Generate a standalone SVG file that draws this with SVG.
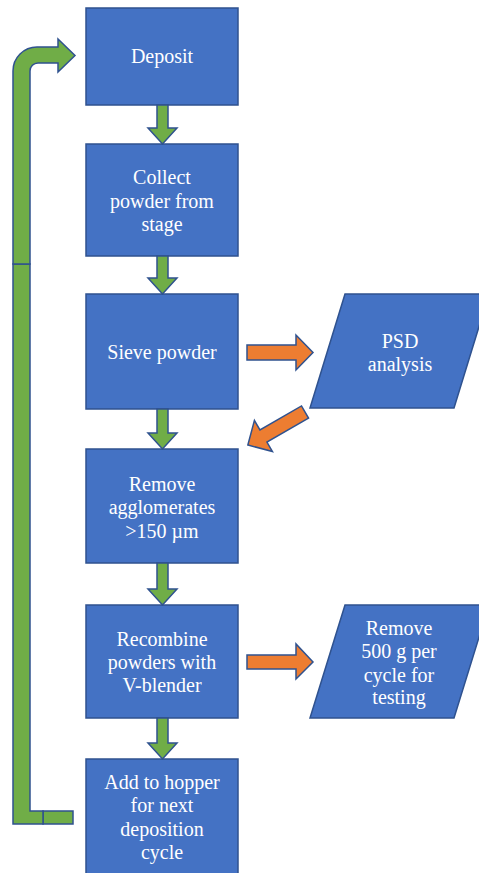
<svg xmlns="http://www.w3.org/2000/svg" width="479" height="873" viewBox="0 0 479 873">
<style>
.box{fill:#4472C4;stroke:#2F528F;stroke-width:1.5}
.t{font-family:"Liberation Serif",serif;font-size:20px;fill:#FFFFFF;text-anchor:middle}
.g{fill:#70AD47;stroke:#2F528F;stroke-width:1.5;stroke-linejoin:miter}
.o{fill:#ED7D31;stroke:#2F528F;stroke-width:1.5}
</style>
<rect width="479" height="873" fill="#FFFFFF"/>
<g id="deposit">
<rect class="box" x="86" y="8" width="152" height="97"/>
<text class="t" x="162" y="63">Deposit</text>
</g>
<g id="collect">
<rect class="box" x="86" y="144" width="152" height="112"/>
<text class="t" x="162" y="184">Collect</text>
<text class="t" x="162" y="208">powder from</text>
<text class="t" x="162" y="231">stage</text>
</g>
<g id="sieve">
<rect class="box" x="86" y="294" width="152" height="115"/>
<text class="t" x="162" y="359">Sieve powder</text>
</g>
<g id="psd">
<polygon class="box" points="345,294 489,294 454,408 310,408"/>
<text class="t" x="400" y="348">PSD</text>
<text class="t" x="400" y="371">analysis</text>
</g>
<g id="agglomerates">
<rect class="box" x="86" y="449" width="152" height="114"/>
<text class="t" x="162" y="491">Remove</text>
<text class="t" x="162" y="514">agglomerates</text>
<text class="t" x="162" y="538">&gt;150 µm</text>
</g>
<g id="recombine">
<rect class="box" x="86" y="605" width="152" height="113"/>
<text class="t" x="162" y="646">Recombine</text>
<text class="t" x="162" y="669">powders with</text>
<text class="t" x="162" y="692">V-blender</text>
</g>
<g id="remove500">
<polygon class="box" points="345,605 489,605 454,718 310,718"/>
<text class="t" x="399" y="635">Remove</text>
<text class="t" x="399" y="658">500 g per</text>
<text class="t" x="399" y="682">cycle for</text>
<text class="t" x="399" y="704">testing</text>
</g>
<g id="hopper">
<rect class="box" x="86" y="759" width="152" height="125"/>
<text class="t" x="162" y="789">Add to hopper</text>
<text class="t" x="162" y="812">for next</text>
<text class="t" x="162" y="836">deposition</text>
<text class="t" x="162" y="859">cycle</text>
</g>
<g id="connectors">
<polygon class="g" points="157,105 168,105 168,128 177,128 162.5,144 148,128 157,128"/>
<polygon class="g" points="157,256 168,256 168,278 177,278 162.5,294 148,278 157,278"/>
<polygon class="g" points="157,409 168,409 168,433 177,433 162.5,449 148,433 157,433"/>
<polygon class="g" points="157,563 168,563 168,589 177,589 162.5,605 148,589 157,589"/>
<polygon class="g" points="157,718 168,718 168,743 177,743 162.5,759 148,743 157,743"/>
<polygon class="o" points="247,345 296,345 296,335 313,352.5 296,370 296,360 247,360"/>
<polygon class="o" points="247,655 296,655 296,644 313,662 296,679 296,669 247,669"/>
<polygon class="o" transform="translate(305,412) rotate(150)" points="0,-7 48,-7 48,-18 66,0 48,18 48,7 0,7"/>
<rect class="g" x="43" y="811" width="30" height="13"/>
<polygon class="g" points="13,264 30,264 30,811 43,811 43,824 13,824"/>
<path class="g" d="M13,264 L13,71 A24,24 0 0 1 37,47 L58,47 L58,39 L75,55.5 L58,72 L58,63 L38,63 A8,8 0 0 0 30,71 L30,264 Z"/>
</g>
</svg>
